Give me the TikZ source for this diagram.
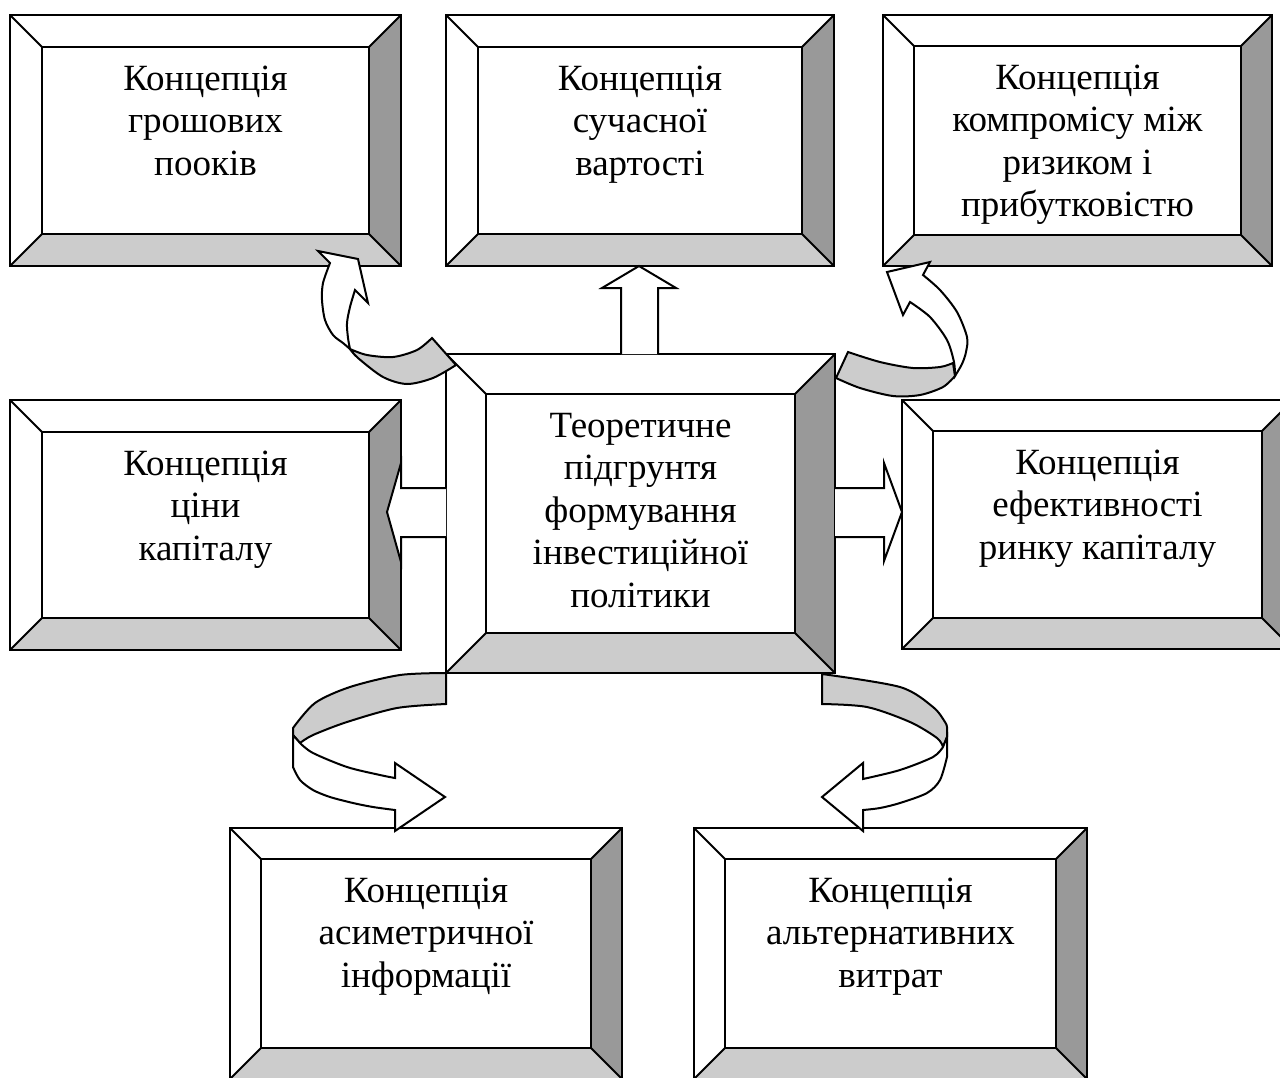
\documentclass[tikz,border=0pt]{standalone}
\usepackage{fontspec}
\setmainfont{Liberation Serif}
\usetikzlibrary{fit}
\definecolor{lgray}{HTML}{CCCCCC}
\definecolor{mgray}{HTML}{999999}
\tikzset{
  boxline/.style={draw=black, line width=2pt},
  blockarrow/.style={draw=black, line width=2pt, fill=white},
  bandback/.style={draw=black, line width=2pt, fill=lgray},
  boxtext/.style={anchor=base, inner sep=0pt, font=\fontsize{37}{42.5}\selectfont},
}
% name x1 y1 x2 y2 bevel text
\newcommand\BevBox[7]{%
  \fill[white] (#2,#3) rectangle (#4,#5);
  \fill[lgray] (#2,#5) -- (#4,#5) -- ({#4-#6},{#5-#6}) -- ({#2+#6},{#5-#6}) -- cycle;
  \fill[mgray] (#4,#3) -- (#4,#5) -- ({#4-#6},{#5-#6}) -- ({#4-#6},{#3+#6}) -- cycle;
  \draw[boxline] ({#2+#6},{#3+#6}) rectangle ({#4-#6},{#5-#6});
  \draw[boxline] (#2,#3) -- ({#2+#6},{#3+#6}) (#4,#3) -- ({#4-#6},{#3+#6})
                 (#2,#5) -- ({#2+#6},{#5-#6}) (#4,#5) -- ({#4-#6},{#5-#6});
  \draw[boxline] (#2,#3) rectangle (#4,#5);
  \node[fit={(#2,#3) (#4,#5)}, inner sep=0pt] (#1) {};
  \node[boxtext] (#1-text) at ({(#2+#4)/2},{#3+#6+43}) {\begin{tabular}[t]{@{}c@{}}#7\end{tabular}};
}
\begin{document}
\begin{tikzpicture}[x=1pt, y=-1pt]
\useasboundingbox[fill=white] (0,0) rectangle (1280,1077);

\BevBox{tl}{10}{15}{401}{266}{32}{Концепція\\грошових\\пооків}
\BevBox{tm}{446}{15}{834}{266}{32}{Концепція\\сучасної\\вартості}
\BevBox{tr}{883}{15}{1272}{266}{31}{Концепція\\компромісу між\\ризиком і\\прибутковістю}
\BevBox{ml}{10}{400}{401}{650}{32}{Концепція\\ціни\\капіталу}
\BevBox{mr}{902}{400}{1293}{649}{31}{Концепція\\ефективності\\ринку капіталу}
\BevBox{bl}{230}{828}{622}{1079}{31}{Концепція\\асиметричної\\інформації}
\BevBox{br}{694}{828}{1087}{1079}{31}{Концепція\\альтернативних\\витрат}
\BevBox{c}{446}{354}{835}{673}{40}{Теоретичне\\підгрунтя\\формування\\інвестиційної\\політики}

% straight block arrows
\filldraw[blockarrow] (621,354) -- (621,288) -- (602,288) -- (639,266) -- (676,288) -- (658,288) -- (658,354);
\filldraw[blockarrow] (446,488) -- (401,488) -- (401,463) -- (387,512) -- (401,562) -- (401,537) -- (446,537);
\filldraw[blockarrow] (835,488) -- (884,488) -- (884,463) -- (902,512) -- (884,561) -- (884,537) -- (835,537);

% curved arrow to top-left box
\filldraw[bandback] plot[smooth] coordinates {(350,349) (358,358) (383,377) (407,384) (433,378) (456,365)}
  -- (432,338) -- plot[smooth] coordinates {(432,338) (417,350) (393,357) (367,355) (350,349)} -- cycle;
\filldraw[blockarrow] plot[smooth] coordinates {(350,349) (348,338) (347,323) (350,307) (355,290)}
  -- (368,303) -- (358,259) -- (318,251) -- (330,263)
  -- plot[smooth] coordinates {(330,263) (323,283) (322,300) (325,320) (333,335) (343,343) (350,349)} -- cycle;

% curved arrow to top-right box
\filldraw[bandback] plot[smooth] coordinates {(955,376) (943,387) (920,395) (893,396) (860,388) (836,378)}
  -- (848,352) -- plot[smooth] coordinates {(848,352) (880,362) (913,368) (940,367) (953,363)} -- cycle;
\filldraw[blockarrow] plot[smooth] coordinates {(955,376) (954,362) (947,340) (930,317) (910,302)}
  -- (903,315) -- (887,272) -- (930,262) -- (923,275)
  -- plot[smooth] coordinates {(923,275) (940,290) (957,312) (967,337) (966,352) (962,364) (955,376)} -- cycle;

% curved arrow to bottom-left box
\filldraw[bandback] plot[smooth] coordinates {(446,673) (400,675) (350,687) (315,703) (293,728)}
  -- (293,735) -- (300,743) -- plot[smooth] coordinates {(300,743) (313,735) (347,722) (397,708) (446,704)} -- cycle;
\filldraw[blockarrow] (293,735) -- plot[smooth] coordinates {(293,767) (300,780) (313,790) (330,797) (353,803) (373,807) (395,810)}
  -- (395,831) -- (445,797) -- (395,763) -- (395,778)
  -- plot[smooth] coordinates {(395,778) (380,775) (347,767) (313,753) (300,743)} -- cycle;

% curved arrow to bottom-right box
\filldraw[bandback] plot[smooth] coordinates {(822,674) (900,687) (933,707) (945,722) (947,727)}
  -- (947,737) -- (943,747) -- plot[smooth] coordinates {(943,747) (937,738) (910,722) (867,707) (822,704)} -- cycle;
\filldraw[blockarrow] (947,737) -- plot[smooth] coordinates {(947,757) (940,780) (927,793) (900,803) (880,808) (863,810)}
  -- (863,831) -- (822,797) -- (863,763) -- (863,779)
  -- plot[smooth] coordinates {(863,779) (900,770) (933,757) (943,747)} -- cycle;
\end{tikzpicture}
\end{document}
